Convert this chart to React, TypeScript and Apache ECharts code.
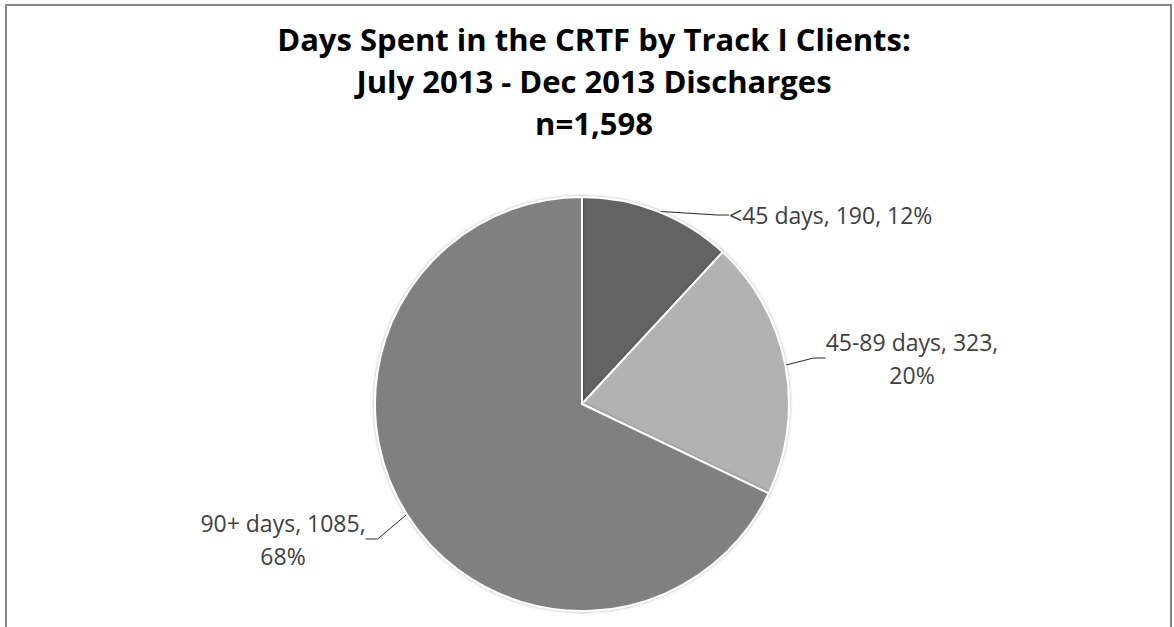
import React, { useEffect, useRef } from "react";
import * as echarts from "echarts";

const titleLines = [
  "Days Spent in the CRTF by Track I Clients:",
  "July 2013 - Dec 2013 Discharges",
  "n=1,598",
];
const categories = ["<45 days", "45-89 days", "90+ days"];
const values = [190, 323, 1085];
const sliceColors = ["#636363", "#b2b2b2", "#808080"];

export default function App() {
  const ref = useRef<HTMLDivElement>(null);
  useEffect(() => {
    if (!ref.current) return;
    const chart = echarts.init(ref.current, null, { renderer: "svg" });
    const labelPos = [
      { x: 729, y: 215, align: "left", wrap: false },
      { x: 912, y: 358, align: "center", wrap: true },
      { x: 283, y: 539, align: "center", wrap: true },
    ];
    chart.setOption({
      animation: false,
      backgroundColor: "#ffffff",
      title: {
        text: titleLines.join("\n"),
        left: 589,
        textAlign: "center",
        top: 13,
        textStyle: {
          fontFamily: "Open Sans",
          fontWeight: "bold",
          fontSize: 31,
          lineHeight: 42,
          color: "#000000",
        },
      },
      graphic: [
        {
          type: "rect",
          shape: { x: 6, y: 5, width: 1165, height: 700 },
          style: { fill: "none", stroke: "#858585", lineWidth: 2 },
          silent: true,
        },
      ],
      series: [
        {
          type: "pie",
          center: [582, 404],
          radius: 207,
          startAngle: 90,
          clockwise: true,
          avoidLabelOverlap: false,
          itemStyle: {
            borderColor: "#ffffff",
            borderWidth: 2,
            shadowBlur: 3,
            shadowColor: "rgba(0,0,0,0.35)",
          },
          label: {
            show: true,
            position: "outside",
            fontFamily: "Open Sans",
            fontSize: 23,
            color: "#404040",
            lineHeight: 33,
            formatter: (p: any) =>
              `${p.name}, ${p.value},${labelPos[p.dataIndex].wrap ? "\n" : " "}${Math.round(p.percent)}%`,
          },
          labelLine: {
            show: true,
            length: 15,
            length2: 12,
            lineStyle: { color: "#262626", width: 1 },
          },
          labelLayout: (params: any) => {
            const lp = labelPos[params.dataIndex];
            return {
              x: lp.x,
              y: lp.y,
              align: lp.align,
              verticalAlign: "middle",
            };
          },
          data: categories.map((c, i) => ({
            name: c,
            value: values[i],
            itemStyle: { color: sliceColors[i] },
            label: { align: labelPos[i].align },
          })),
        },
      ],
    });
    return () => chart.dispose();
  }, []);
  return (
    <div
      ref={ref}
      style={{ position: "fixed", left: 0, top: 0, width: 1174, height: 627 }}
    />
  );
}
